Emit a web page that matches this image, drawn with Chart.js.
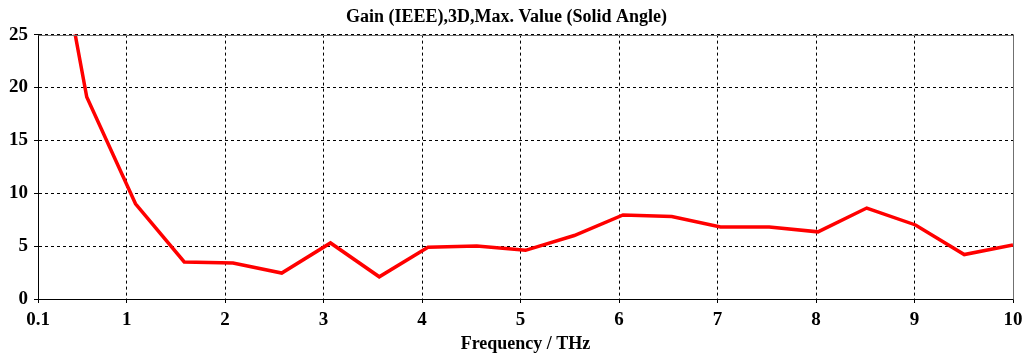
<!DOCTYPE html>
<html>
<head>
<meta charset="utf-8">
<script src="https://cdn.jsdelivr.net/npm/chart.js@4/dist/chart.umd.min.js"></script>
<style>
  html, body { margin: 0; padding: 0; background: #fff; }
  #wrap { width: 1025px; height: 359px; }
</style>
</head>
<body>
<div id="wrap"><canvas id="c" width="1025" height="359"></canvas></div>
<script>
// Frequency samples (THz) and maximum realized gain over the solid angle (dBi)
const frequencies = [0.1, 0.595, 1.09, 1.585, 2.08, 2.575, 3.07, 3.565, 4.06, 4.555, 5.05,
                     5.545, 6.04, 6.535, 7.03, 7.525, 8.02, 8.515, 9.01, 9.505, 10];
const gainValues  = [44, 19.1, 9.0, 3.5, 3.4, 2.45, 5.3, 2.1, 4.9, 5.0, 4.6,
                     6.0, 7.95, 7.8, 6.8, 6.8, 6.35, 8.6, 7.0, 4.2, 5.1];
const xTickValues = [0.1, 1, 2, 3, 4, 5, 6, 7, 8, 9, 10];
const yTickValues = [0, 5, 10, 15, 20, 25];

const chartTitle = 'Gain (IEEE),3D,Max. Value (Solid Angle)';
const xAxisTitle = 'Frequency / THz';

const serifBold = (size) => ({ family: "'Liberation Serif', 'Times New Roman', serif", size: size, weight: 'bold' });

// Solid frame along the top and right edges of the plot area
const frameEdges = {
  id: 'frameEdges',
  afterDraw(chart) {
    const { ctx, chartArea: a } = chart;
    ctx.save();
    ctx.strokeStyle = '#707070';
    ctx.lineWidth = 1;
    ctx.setLineDash([]);
    ctx.beginPath();
    ctx.moveTo(Math.round(a.left) + 0.5, Math.round(a.top) + 0.5);
    ctx.lineTo(Math.round(a.right) + 0.5, Math.round(a.top) + 0.5);
    ctx.lineTo(Math.round(a.right) + 0.5, Math.round(a.bottom) + 0.5);
    ctx.stroke();
    ctx.restore();
  }
};

new Chart(document.getElementById('c'), {
  type: 'line',
  data: {
    datasets: [{
      data: frequencies.map((f, i) => ({ x: f, y: gainValues[i] })),
      borderColor: '#ff0000',
      borderWidth: 3.5,
      pointRadius: 0,
      tension: 0,
      fill: false
    }]
  },
  options: {
    responsive: false,
    animation: false,
    devicePixelRatio: 1,
    layout: { padding: { top: 1, right: 12, left: 0, bottom: 0 } },
    plugins: {
      legend: { display: false },
      tooltip: { enabled: false },
      title: {
        display: true,
        text: chartTitle,
        color: '#000',
        font: serifBold(18),
        padding: { top: 6, bottom: 6 }
      }
    },
    scales: {
      x: {
        type: 'linear',
        min: 0.1,
        max: 10,
        afterBuildTicks(scale) { scale.ticks = xTickValues.map(v => ({ value: v })); },
        afterFit(scale) {
          scale.height = 60;
          scale.paddingLeft = 0;
          scale.paddingRight = 0;
        },
        ticks: {
          color: '#000',
          font: serifBold(19),
          padding: 6,
          maxRotation: 0,
          autoSkip: false,
          callback: (v) => String(v)
        },
        grid: {
          color: '#000',
          lineWidth: 1,
          drawTicks: true,
          tickLength: 4,
          tickColor: '#000',
          tickBorderDash: []
        },
        border: { display: true, color: '#000', width: 1, dash: [3, 3] },
        title: {
          display: true,
          text: xAxisTitle,
          color: '#000',
          font: serifBold(18),
          padding: { top: 0, bottom: 4 }
        }
      },
      y: {
        min: 0,
        max: 25,
        afterBuildTicks(scale) { scale.ticks = yTickValues.map(v => ({ value: v })); },
        afterFit(scale) {
          scale.width = 38;
          scale.paddingTop = 0;
          scale.paddingBottom = 0;
        },
        ticks: {
          color: '#000',
          font: serifBold(19),
          padding: 6
        },
        grid: {
          color: '#000',
          lineWidth: 1,
          drawTicks: true,
          tickLength: 4,
          tickColor: '#000',
          tickBorderDash: []
        },
        border: { display: true, color: '#000', width: 1, dash: [3, 3] }
      }
    }
  },
  plugins: [frameEdges]
});
</script>
</body>
</html>
